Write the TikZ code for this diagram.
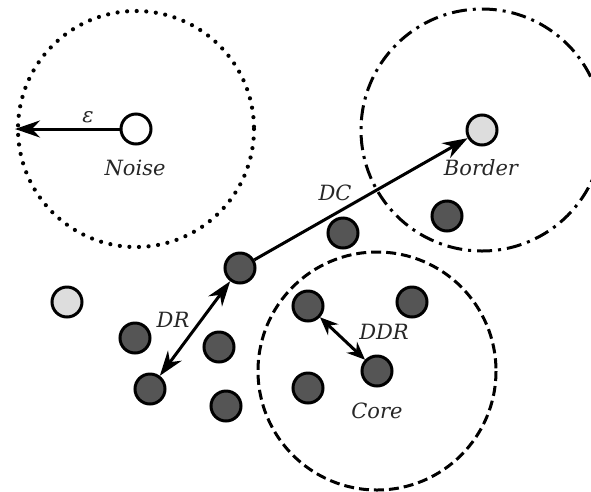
\documentclass[tikz,border=0pt]{standalone}
\usepackage{fontspec}
\setmainfont{DejaVu Serif}
\usetikzlibrary{arrows.meta}
\definecolor{coreFill}{HTML}{555555}
\definecolor{edgeFill}{HTML}{DDDDDD}
\begin{document}
\begin{tikzpicture}[x=1pt,y=-1pt,
  sample/.style={circle,draw=black,line width=3pt,minimum size=30pt,inner sep=0pt},
  dense/.style={sample,fill=coreFill},
  sparse/.style={sample,fill=edgeFill},
  hollow/.style={sample,fill=white},
  lbl/.style={font=\itshape\fontsize{21}{24}\selectfont,inner sep=0pt,text=black!85},
  reach/.style={line width=3pt},
  bigtip/.tip={Stealth[length=25pt,width=17pt,inset=8pt]},
  smalltip/.tip={Stealth[length=18pt,width=15pt,inset=6pt]},
  noiseRing/.style={line width=4.2pt,line cap=round,dash pattern=on 0pt off 9.6pt},
  coreRing/.style={line width=3pt,dash pattern=on 10pt off 5pt},
  borderRing/.style={line width=3pt,dash pattern=on 15pt off 6pt on 3pt off 6pt}]
\useasboundingbox (0,0) rectangle (591,491);

% neighbourhood rings
\draw[noiseRing] (136,129) circle[radius=118];
\draw[borderRing] (482,130) circle[radius=121];
\draw[coreRing] (377,371) circle[radius=119];

% samples
\node[hollow] (noise) at (136,129) {};
\node[sparse] (border) at (482,130) {};
\node[sparse] (lone) at (67,302) {};
\node[dense] (a) at (240,268) {};
\node[dense] (b) at (343,233) {};
\node[dense] (c) at (447,216) {};
\node[dense] (d) at (135,338) {};
\node[dense] (e) at (219,347) {};
\node[dense] (f) at (150,389) {};
\node[dense] (g) at (226,406) {};
\node[dense] (h) at (308,306) {};
\node[dense] (i) at (412,302) {};
\node[dense] (core) at (377,371) {};
\node[dense] (j) at (308,388) {};

% radius and reachability links
\coordinate (epsEnd) at (15,129);
\draw[reach,-bigtip] (noise) -- (epsEnd);
\draw[reach,-bigtip] (a) -- (border);
\draw[reach,bigtip-bigtip] (a) -- (f);
\draw[reach,smalltip-smalltip] (h) -- (core);

% labels
\node[lbl] at (88,117) {ε};
\node[lbl] at (135,168) {Noise};
\node[lbl] at (481,168) {Border};
\node[lbl] at (335,193) {DC};
\node[lbl] at (173,320) {DR};
\node[lbl] at (384,332) {DDR};
\node[lbl] at (377,411) {Core};
\end{tikzpicture}
\end{document}
